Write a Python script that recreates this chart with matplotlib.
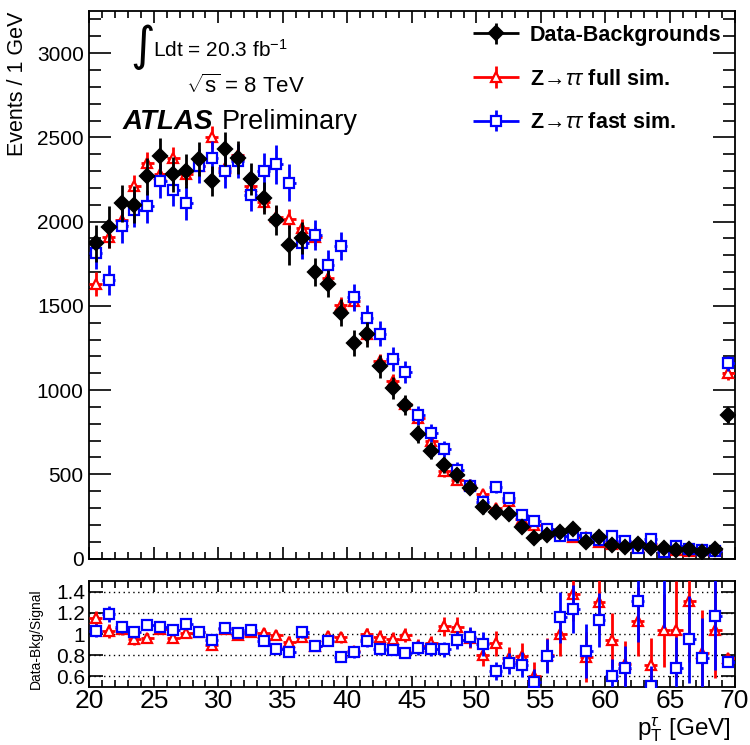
import numpy as np
import matplotlib
matplotlib.use('Agg')
import matplotlib.pyplot as plt
from matplotlib.ticker import MultipleLocator, FixedLocator, FixedFormatter
from matplotlib.container import ErrorbarContainer
from matplotlib.legend_handler import HandlerErrorbar

plt.rcParams['font.family'] = ['Liberation Sans', 'DejaVu Sans']
plt.rcParams['mathtext.fontset'] = 'custom'
plt.rcParams['mathtext.rm'] = 'Liberation Sans'
plt.rcParams['mathtext.it'] = 'Liberation Sans:italic'
plt.rcParams['mathtext.bf'] = 'Liberation Sans:bold'

# tau pT bins, 1 GeV wide, 20-70 GeV (last bin includes overflow)
pt_low = np.arange(20, 70)
pt = pt_low + 0.5

data = [1870, 1970, 2110, 2100, 2270, 2390, 2280, 2300, 2370, 2240,
        2430, 2380, 2250, 2140, 2010, 1860, 1900, 1700, 1630, 1460,
        1280, 1330, 1140, 1010, 910, 740, 640, 555, 495, 420,
        305, 275, 262, 185, 120, 140, 155, 175, 100, 125,
        80, 70, 85, 60, 60, 50, 55, 40, 55, 850]
data_err = [110, 125, 110, 110, 110, 105, 105, 100, 100, 90,
            100, 100, 95, 95, 90, 120, 95, 85, 80, 80,
            75, 75, 70, 65, 60, 55, 50, 48, 45, 40,
            38, 36, 35, 30, 28, 28, 32, 32, 30, 28,
            22, 21, 25, 22, 20, 22, 24, 20, 24, 45]

full_sim = [1630, 1910, 2010, 2210, 2350, 2280, 2380, 2280, 2330, 2500,
            2320, 2395, 2210, 2115, 2030, 2015, 1960, 1910, 1665, 1505,
            1530, 1330, 1170, 1055, 920, 835, 700, 518, 465, 437,
            380, 302, 340, 234, 200, 175, 155, 127, 128, 96,
            85, 97, 76, 85, 58, 48, 42, 49, 53, 1100]
full_err = [70, 65, 65, 65, 65, 65, 65, 65, 65, 70,
            65, 65, 60, 60, 60, 60, 55, 55, 50, 50,
            50, 48, 45, 42, 40, 38, 35, 32, 30, 28,
            26, 24, 23, 20, 18, 17, 16, 15, 14, 13,
            12, 12, 11, 11, 10, 10, 9, 9, 9, 40]

fast_sim = [1815, 1655, 1975, 2070, 2090, 2240, 2190, 2110, 2330, 2380,
            2300, 2360, 2160, 2300, 2340, 2230, 1870, 1920, 1745, 1855,
            1550, 1425, 1335, 1185, 1105, 850, 745, 650, 525, 432,
            338, 425, 362, 260, 220, 177, 134, 142, 119, 110,
            133, 103, 65, 118, 38, 74, 58, 52, 47, 1160]
fast_err = [95, 90, 100, 100, 100, 100, 100, 100, 100, 100,
            100, 100, 95, 110, 115, 110, 90, 90, 85, 85,
            80, 78, 75, 70, 65, 58, 55, 50, 46, 42,
            38, 36, 34, 30, 28, 26, 24, 22, 21, 20,
            20, 19, 18, 18, 17, 17, 16, 15, 15, 45]

labels = ['Data-Backgrounds',
          r'Z$\!\rightarrow\!\tau\tau$ full sim.',
          r'Z$\!\rightarrow\!\tau\tau$ fast sim.']

data = np.array(data, float)
data_err = np.array(data_err, float)
full_sim = np.array(full_sim, float)
fast_sim = np.array(fast_sim, float)

W, H = 750, 745
fig = plt.figure(figsize=(W / 100, H / 100), dpi=100)


def fx(x):
    return x / W


def fy(y):
    return (H - y) / H


left, right = 89.3, 734.5
ax = fig.add_axes([fx(left), fy(558.5), (right - left) / W, (558.5 - 11) / H])
rax = fig.add_axes([fx(left), fy(687), (right - left) / W, (687 - 581) / H])

ebkw = dict(xerr=0.5, elinewidth=2, capsize=0, ls='none', mew=1.6)
e_full = ax.errorbar(pt, full_sim, yerr=full_err, fmt='^', ms=7, color='red', mec='red',
                     mfc='white', ecolor='red', zorder=3, **ebkw)
e_fast = ax.errorbar(pt, fast_sim, yerr=fast_err, fmt='s', ms=7, color='blue', mec='blue',
                     mfc='white', ecolor='blue', zorder=4, **ebkw)
e_data = ax.errorbar(pt, data, yerr=data_err, fmt='D', ms=7.5, color='black', mec='black',
                     mfc='black', ecolor='black', zorder=5, **ebkw)

ax.set_xlim(20, 70)
ax.set_ylim(0, 3250)
ax.xaxis.set_major_locator(MultipleLocator(5))
ax.xaxis.set_minor_locator(MultipleLocator(1))
ax.yaxis.set_major_locator(MultipleLocator(500))
ax.yaxis.set_minor_locator(MultipleLocator(100))
ax.tick_params(which='both', direction='in', top=True, right=True, width=1.2)
ax.tick_params(axis='x', which='major', length=8.5, labelbottom=False)
ax.tick_params(axis='x', which='minor', length=5)
ax.tick_params(axis='y', which='major', length=16, labelsize=15, pad=4)
ax.tick_params(axis='y', which='minor', length=8.5)

leg = ax.legend([e_data, e_full, e_fast], labels, loc='upper left',
                bbox_to_anchor=(fx(473), fy(25)), bbox_transform=fig.transFigure,
                frameon=False, borderpad=0, borderaxespad=0, labelspacing=1.05,
                handlelength=2.15, handletextpad=0.5,
                prop={'weight': 'bold', 'size': 15.5},
                handler_map={ErrorbarContainer: HandlerErrorbar(xerr_size=1.07, yerr_size=0.5)})

# ratio panel
r_full = data / full_sim
r_fast = data / fast_sim
rax.errorbar(pt, r_full, yerr=data_err / full_sim, fmt='^', ms=7, color='red', mec='red',
             mfc='white', ecolor='red', zorder=3, **ebkw)
rax.errorbar(pt, r_fast, yerr=data_err / fast_sim, fmt='s', ms=7, color='blue', mec='blue',
             mfc='white', ecolor='blue', zorder=4, **ebkw)
for g in [0.6, 0.8, 1.0, 1.2, 1.4]:
    rax.axhline(g, color='black', ls=(0, (1, 2.5)), lw=1.0, zorder=1)
rax.set_xlim(20, 70)
rax.set_ylim(0.5, 1.5)
rax.xaxis.set_major_locator(MultipleLocator(5))
rax.xaxis.set_minor_locator(MultipleLocator(1))
rax.yaxis.set_major_locator(FixedLocator([0.6, 0.8, 1.0, 1.2, 1.4]))
rax.yaxis.set_major_formatter(FixedFormatter(['0.6', '0.8', '1', '1.2', '1.4']))
rax.tick_params(which='both', direction='in', top=True, right=True, width=1.2)
rax.tick_params(axis='x', which='major', length=8, labelsize=19, pad=1.5)
rax.tick_params(axis='x', which='minor', length=5)
rax.tick_params(axis='y', which='major', length=10, labelsize=15, pad=3)

for a in (ax, rax):
    for s in a.spines.values():
        s.set_linewidth(1.3)

# axis titles
fig.text(fx(28), fy(12), 'Events / 1 GeV', rotation=90, rotation_mode='anchor',
         ha='right', va='bottom', fontsize=15.5)
fig.text(fx(43), fy(639), 'Data-Bkg/Signal', rotation=90, rotation_mode='anchor',
         ha='center', va='bottom', fontsize=10)
fig.text(fx(731), fy(735), r'p$_{\mathregular{T}}^{\tau}$ [GeV]', ha='right', va='baseline',
         fontsize=17.5)

# labels on the plot
fig.text(fx(130), fy(47), '\u222b', family='DejaVu Sans', fontsize=34, ha='left', va='center')
fig.text(fx(153), fy(57), r'Ldt = 20.3 fb$^{\mathregular{-1}}$', fontsize=15, va='baseline')
fig.text(fx(186), fy(93), r'$\sqrt{\mathregular{s}}$ = 8 TeV', fontsize=16, va='baseline')
fig.text(fx(123), fy(129), 'ATLAS', fontsize=20, fontweight='bold', fontstyle='italic',
         va='baseline')
fig.text(fx(222), fy(129), 'Preliminary', fontsize=19.5, va='baseline')

fig.savefig('out.png', dpi=100)
